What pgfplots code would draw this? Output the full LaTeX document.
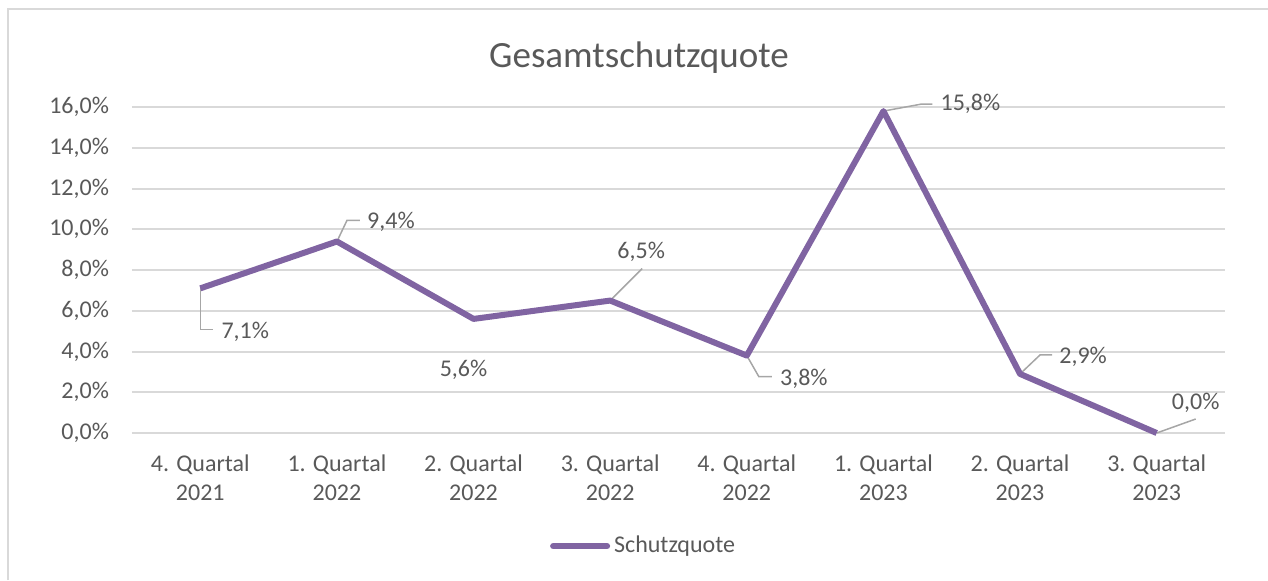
\documentclass[border=0pt]{standalone}
\usepackage{fontspec}
\setmainfont{Carlito}
\usepackage{pgfplots}
\usepackage{pgfplotstable}
\pgfplotsset{compat=1.18}

\definecolor{linepurple}{HTML}{8064A2}
\definecolor{txtgray}{HTML}{595959}
\definecolor{gridgray}{HTML}{D9D9D9}
\definecolor{leadgray}{HTML}{A6A6A6}

% x = quarter index, y = Schutzquote in %, lx/ly = label offset in pt
\pgfplotstableread{
x y lx ly
0 7.1 22.5 -21.5
1 9.4 27 10
2 5.6 -5 -25.5
3 6.5 15.5 24.5
4 3.8 28.5 -11.5
5 15.8 43.5 3.5
6 2.9 31.5 8.5
7 0.0 19.5 15
}\quotedata

\begin{document}
\begin{tikzpicture}
\useasboundingbox (0,0) rectangle (634pt,-290pt);
\draw[gridgray, line width=1pt] (3.75pt,-290pt) -- (3.75pt,-4.5pt) -- (634pt,-4.5pt);
\node[txtgray, font=\fontsize{18.5}{22}\selectfont] at (319.5pt,-29pt) {Gesamtschutzquote};
\begin{axis}[
  at={(66pt,-216.5pt)}, anchor=south west,
  scale only axis, width=546.5pt, height=163pt,
  xmin=-0.5, xmax=7.5, ymin=0, ymax=16,
  axis line style={draw=none},
  major tick length=0pt,
  ymajorgrids, grid style={gridgray, line width=1pt},
  ytick={0,2,...,16},
  /pgf/number format/.cd, fixed, fixed zerofill, precision=1, use comma, assume math mode=true,
  /pgfplots/.cd,
  yticklabel={\pgfmathprintnumber{\tick}\%},
  yticklabel style={anchor=east, xshift=-8pt},
  xtick=data,
  xticklabels={{4. Quartal\\2021},{1. Quartal\\2022},{2. Quartal\\2022},{3. Quartal\\2022},{4. Quartal\\2022},{1. Quartal\\2023},{2. Quartal\\2023},{3. Quartal\\2023}},
  xticklabel style={align=center, yshift=-7.5pt, font=\fontsize{12}{14.3}\selectfont},
  tick label style={txtgray, font=\fontsize{12}{14.3}\selectfont},
  clip=false,
  legend style={draw=none, at={(axis description cs:0.469,-0.347)}, anchor=center,
    font=\fontsize{12}{14}\selectfont, text=txtgray, inner sep=0pt},
  legend image code/.code={\draw[#1, line cap=round] (0pt,0pt) -- (27pt,0pt);},
]
% leader lines of the data labels
\draw[leadgray, line width=0.75pt] (axis cs:0,7.1) -- ++(0pt,-20.5pt) -- ++(6.5pt,0pt);
\draw[leadgray, line width=0.75pt] (axis cs:1,9.4) -- ++(5pt,10.5pt) -- ++(6.5pt,0pt);
\draw[leadgray, line width=0.75pt] (axis cs:3,6.5) -- ++(16pt,16pt);
\draw[leadgray, line width=0.75pt] (axis cs:4,3.8) -- ++(6pt,-10.5pt) -- ++(6.5pt,0pt);
\draw[leadgray, line width=0.75pt] (axis cs:5,15.8) -- ++(19pt,3.5pt) -- ++(5.5pt,0pt);
\draw[leadgray, line width=0.75pt] (axis cs:6,2.9) -- ++(10pt,9.5pt) -- ++(6pt,0pt);
\draw[leadgray, line width=0.75pt] (axis cs:7,0) -- ++(19.5pt,7pt);
\addplot[linepurple, line width=3pt, line join=round,
  nodes near coords={\pgfmathprintnumber{\pgfplotspointmeta}\%},
  visualization depends on={\thisrow{lx} \as \lx},
  visualization depends on={\thisrow{ly} \as \ly},
  every node near coord/.append style={anchor=center, txtgray,
    font=\fontsize{12}{14}\selectfont, xshift=\lx, yshift=\ly}]
  table[x=x, y=y] {\quotedata};
\addlegendentry{Schutzquote}
\end{axis}
\end{tikzpicture}
\end{document}
